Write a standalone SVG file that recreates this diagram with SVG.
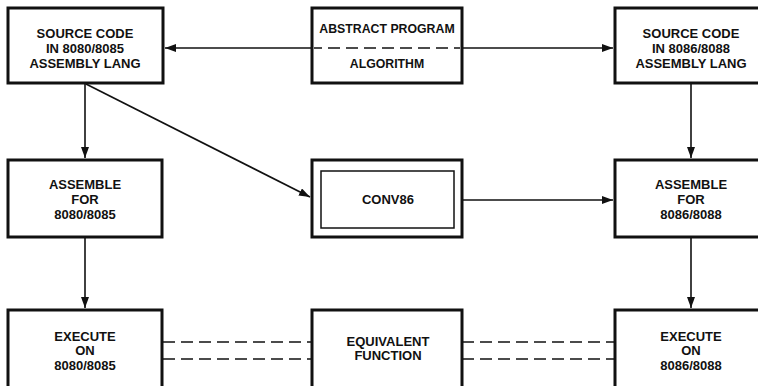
<svg xmlns="http://www.w3.org/2000/svg" width="758" height="386" viewBox="0 0 758 386">
<style>
.box{fill:#fff;stroke:#111;stroke-width:3}
.inner{fill:none;stroke:#111;stroke-width:1.5}
.t{font-family:"Liberation Sans",Arial,Helvetica,sans-serif;font-weight:bold;font-size:13px;fill:#111;text-anchor:middle}
.s{font-size:12.3px}
.c{stroke:#111;stroke-width:1.6;fill:none}
.d{stroke:#111;stroke-width:1.6;fill:none;stroke-dasharray:12 6}
</style>
<defs>
<marker id="ah" markerUnits="userSpaceOnUse" markerWidth="11" markerHeight="8" refX="11" refY="4" orient="auto">
<path d="M0,0 L11,4 L0,8 Z" fill="#111"/>
</marker>
</defs>
<rect width="758" height="386" fill="#fff"/>
<g id="connectors">
<line class="c" x1="312" y1="48" x2="165" y2="48" marker-end="url(#ah)"/>
<line class="c" x1="462" y1="48" x2="613" y2="48" marker-end="url(#ah)"/>
<line class="c" x1="85" y1="84" x2="85" y2="158" marker-end="url(#ah)"/>
<line class="c" x1="86" y1="84" x2="310" y2="197" marker-end="url(#ah)"/>
<line class="c" x1="691" y1="84" x2="691" y2="158" marker-end="url(#ah)"/>
<line class="c" x1="462" y1="200" x2="613" y2="200" marker-end="url(#ah)"/>
<line class="c" x1="85" y1="238" x2="85" y2="308" marker-end="url(#ah)"/>
<line class="c" x1="691" y1="238" x2="691" y2="308" marker-end="url(#ah)"/>
<line class="d" x1="163" y1="342" x2="312" y2="342"/>
<line class="d" x1="163" y1="359" x2="312" y2="359"/>
<line class="d" x1="462" y1="342" x2="615" y2="342"/>
<line class="d" x1="462" y1="359" x2="615" y2="359"/>
</g>
<g id="src8080">
<rect class="box" x="8" y="8" width="155" height="75"/>
<text class="t" x="85" y="38">SOURCE CODE</text>
<text class="t" x="85" y="53">IN 8080/8085</text>
<text class="t" x="85" y="68">ASSEMBLY LANG</text>
</g>
<g id="abstract">
<rect class="box" x="312" y="8" width="150" height="75"/>
<line class="d" x1="314" y1="48" x2="460" y2="48" stroke-dasharray="10 5" stroke-dashoffset="4"/>
<text class="t s" x="387" y="33">ABSTRACT PROGRAM</text>
<text class="t s" x="387" y="68">ALGORITHM</text>
</g>
<g id="src8086">
<rect class="box" x="615" y="8" width="153" height="75"/>
<text class="t" x="691" y="38">SOURCE CODE</text>
<text class="t" x="691" y="53">IN 8086/8088</text>
<text class="t" x="691" y="68">ASSEMBLY LANG</text>
</g>
<g id="asm8080">
<rect class="box" x="8" y="160" width="154" height="77"/>
<text class="t" x="85" y="189">ASSEMBLE</text>
<text class="t" x="85" y="204">FOR</text>
<text class="t" x="85" y="219">8080/8085</text>
</g>
<g id="conv86">
<rect class="box" x="312" y="160" width="150" height="77"/>
<rect class="inner" x="321" y="171" width="133" height="57"/>
<text class="t" x="388" y="204">CONV86</text>
</g>
<g id="asm8086">
<rect class="box" x="615" y="160" width="153" height="77"/>
<text class="t" x="691" y="189">ASSEMBLE</text>
<text class="t" x="691" y="204">FOR</text>
<text class="t" x="691" y="219">8086/8088</text>
</g>
<g id="exec8080">
<rect class="box" x="8" y="310" width="154" height="90"/>
<text class="t" x="85" y="341">EXECUTE</text>
<text class="t" x="85" y="355">ON</text>
<text class="t" x="85" y="370">8080/8085</text>
</g>
<g id="equiv">
<rect class="box" x="312" y="310" width="150" height="90"/>
<text class="t" x="388" y="346">EQUIVALENT</text>
<text class="t" x="388" y="360">FUNCTION</text>
</g>
<g id="exec8086">
<rect class="box" x="615" y="310" width="153" height="90"/>
<text class="t" x="691" y="341">EXECUTE</text>
<text class="t" x="691" y="355">ON</text>
<text class="t" x="691" y="370">8086/8088</text>
</g>
</svg>
